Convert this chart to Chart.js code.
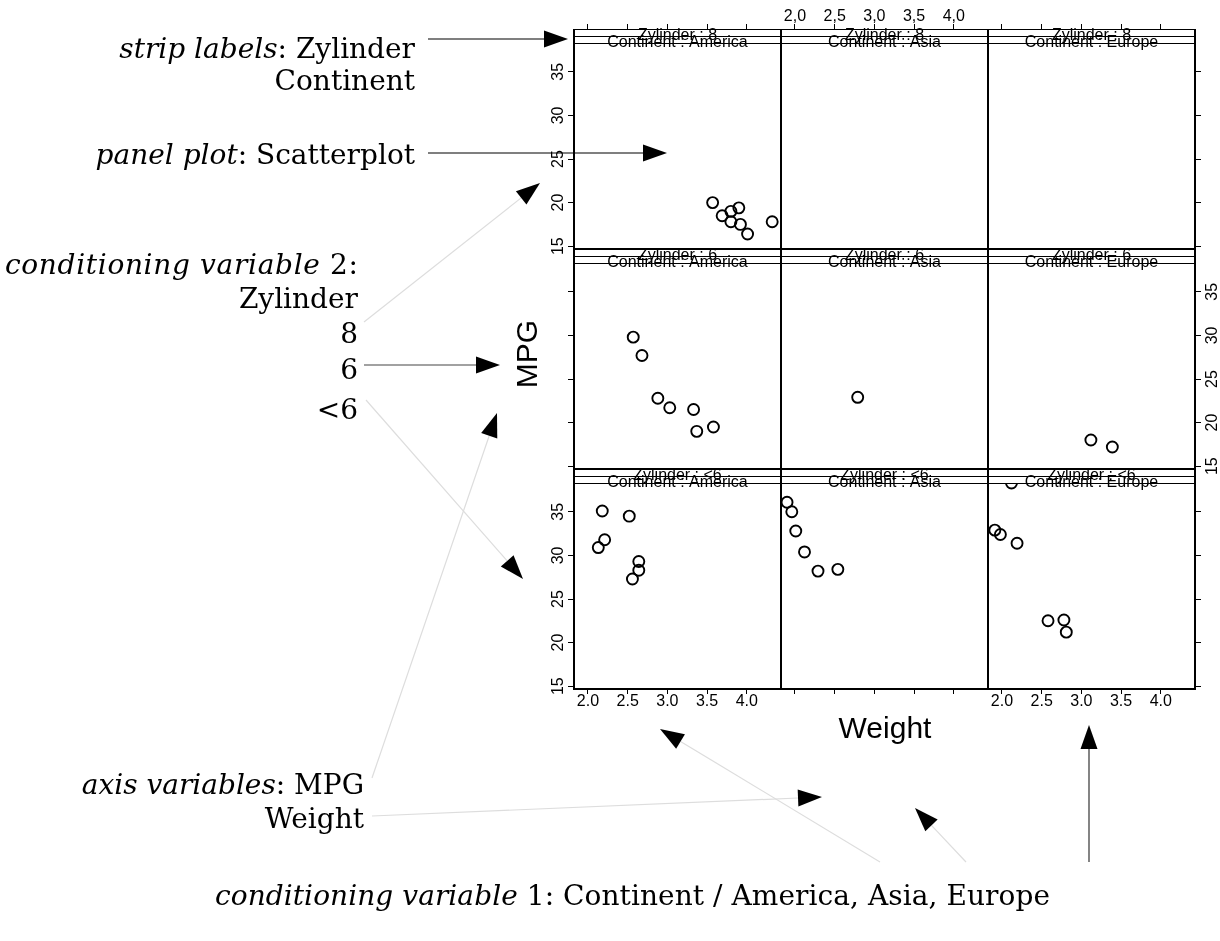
<!DOCTYPE html>
<html>
<head>
<meta charset="utf-8">
<title>MPG ~ Weight | Zylinder * Continent</title>
<script src="https://cdn.jsdelivr.net/npm/chart.js@4.4.1/dist/chart.umd.min.js"></script>
<style>
  html, body { margin: 0; padding: 0; background: #fff; }
  #page { position: relative; width: 1220px; height: 941px; overflow: hidden; }
  #page canvas { position: absolute; }
  #notes { position: absolute; left: 0; top: 0; z-index: 2; pointer-events: none; }
  #notes .serif { font-family: 'DejaVu Serif', serif; font-size: 28px; fill: #000; }
  #notes .sans { font-family: 'Liberation Sans', Arial, sans-serif; font-size: 30px; fill: #000; }
</style>
</head>
<body>
<div id="page">
<svg id="notes" width="1220" height="941" xmlns="http://www.w3.org/2000/svg">
  <!-- legend of the lattice parts -->
  <text class="serif" x="415" y="58" text-anchor="end"><tspan font-style="italic">strip labels</tspan>: Zylinder</text>
  <text class="serif" x="415" y="90" text-anchor="end">Continent</text>
  <text class="serif" x="415" y="164" text-anchor="end"><tspan font-style="italic">panel plot</tspan>: Scatterplot</text>
  <text class="serif" x="5" y="274" textLength="353" lengthAdjust="spacing"><tspan font-style="italic">conditioning variable</tspan> 2:</text>
  <text class="serif" x="358" y="308" text-anchor="end">Zylinder</text>
  <text class="serif" x="358" y="343" text-anchor="end">8</text>
  <text class="serif" x="358" y="379" text-anchor="end">6</text>
  <text class="serif" x="358" y="419" text-anchor="end">&lt;6</text>
  <text class="serif" x="364" y="794" text-anchor="end"><tspan font-style="italic">axis variables</tspan>: MPG</text>
  <text class="serif" x="364" y="828" text-anchor="end">Weight</text>
  <text class="serif" x="215" y="905" textLength="835" lengthAdjust="spacing"><tspan font-style="italic">conditioning variable</tspan> 1: Continent / America, Asia, Europe</text>
  <!-- axis titles shared by all panels -->
  <text class="sans" transform="translate(537,354) rotate(-90)" text-anchor="middle">MPG</text>
  <text class="sans" x="885" y="738" text-anchor="middle">Weight</text>
  <g id="arrows"></g>
</svg>
</div>
<script>
// ===================== DATA =====================
const continents = ['America', 'Asia', 'Europe'];
const zylinderLevels = ['8', '6', '<6'];
const weightTicks = [2.0, 2.5, 3.0, 3.5, 4.0];
const mpgTicks = [15, 20, 25, 30, 35];

// Zylinder 8
const weight8America = [3.57, 3.69, 3.80, 3.90, 3.80, 3.92, 4.01, 4.32];
const mpg8America = [20.0, 18.5, 19.0, 19.4, 17.8, 17.5, 16.4, 17.8];
const weight8Asia = [];
const mpg8Asia = [];
const weight8Europe = [];
const mpg8Europe = [];

// Zylinder 6
const weight6America = [2.57, 2.68, 2.88, 3.03, 3.33, 3.37, 3.58];
const mpg6America = [29.8, 27.7, 22.8, 21.7, 21.5, 19.0, 19.5];
const weight6Asia = [2.79];
const mpg6Asia = [22.9];
const weight6Europe = [3.12, 3.39];
const mpg6Europe = [18.0, 17.2];

// Zylinder <6
const weightLt6America = [2.18, 2.52, 2.21, 2.13, 2.64, 2.64, 2.56];
const mpgLt6America = [35.1, 34.5, 31.8, 30.9, 29.3, 28.3, 27.3];
const weightLt6Asia = [1.90, 1.96, 2.01, 2.12, 2.29, 2.54];
const mpgLt6Asia = [36.1, 35.0, 32.8, 30.4, 28.2, 28.4];
const weightLt6Europe = [2.12, 1.91, 1.98, 2.19, 2.58, 2.78, 2.81];
const mpgLt6Europe = [38.3, 32.9, 32.4, 31.4, 22.5, 22.6, 21.2];

// ===================== LAYOUT =====================
const COL_LEFT = [574, 781, 988];
const ROW_TOP = [29, 249, 469];
const PANEL_W = 207;
const PANEL_H = 220;      // strip + plotting region
const STRIP_H = 14.5;
const M = 40;             // room around each panel for the axes
const X_MIN = 1.824, X_MAX = 4.431;
const Y_MIN = 14.68, Y_MAX = 39.91;

Chart.defaults.font.family = "'Liberation Sans', Arial, sans-serif";
Chart.defaults.color = '#000';

// Trả về [weights, mpgs] cho từng ô của lưới
function panelValues(row, col) {
    const table = [
        [[weight8America, mpg8America], [weight8Asia, mpg8Asia], [weight8Europe, mpg8Europe]],
        [[weight6America, mpg6America], [weight6Asia, mpg6Asia], [weight6Europe, mpg6Europe]],
        [[weightLt6America, mpgLt6America], [weightLt6Asia, mpgLt6Asia], [weightLt6Europe, mpgLt6Europe]]
    ];
    return table[row][col];
}

// Strip labels + panel frame, drawn over the points
const stripPlugin = {
    id: 'strip',
    afterDatasetsDraw(chart, args, opts) {
        const { left, right, top, bottom } = chart.chartArea;
        const ctx = chart.ctx;
        const cx = (left + right) / 2;
        ctx.save();
        ctx.fillStyle = '#fff';
        ctx.fillRect(left, top, right - left, STRIP_H);
        ctx.strokeStyle = '#000';
        ctx.lineWidth = 1;
        [0.5, 7.5, 14.5].forEach(dy => {
            ctx.beginPath();
            ctx.moveTo(left, top + dy);
            ctx.lineTo(right, top + dy);
            ctx.stroke();
        });
        ctx.fillStyle = '#000';
        ctx.font = "16px 'Liberation Sans', Arial, sans-serif";
        ctx.textAlign = 'center';
        ctx.textBaseline = 'alphabetic';
        ctx.fillText(opts.upper, cx, top + 11);
        ctx.fillText(opts.lower, cx, top + 17.5);
        ctx.lineWidth = 2;
        ctx.beginPath();
        ctx.moveTo(left, top);
        ctx.lineTo(left, bottom);
        ctx.lineTo(right, bottom);
        ctx.lineTo(right, top);
        ctx.stroke();
        ctx.restore();
    }
};

function xScale(position, marks, labels, fmt) {
    return {
        type: 'linear',
        position: position,
        min: X_MIN,
        max: X_MAX,
        afterBuildTicks: s => { s.ticks = weightTicks.map(v => ({ value: v })); },
        afterFit: s => { s.height = M; },
        border: { display: false },
        grid: { display: marks, drawOnChartArea: false, drawTicks: true, tickLength: 5, color: '#000', lineWidth: 1 },
        ticks: { display: labels, autoSkip: false, maxRotation: 0, padding: position === 'top' ? -1 : 0, font: { size: 16, lineHeight: 1 }, color: '#000', callback: fmt }
    };
}

function yScale(position, marks, labels, pad) {
    return {
        type: 'linear',
        position: position,
        min: Y_MIN,
        max: Y_MAX,
        afterBuildTicks: s => { s.ticks = mpgTicks.map(v => ({ value: v })); },
        afterFit: s => { s.width = M; },
        border: { display: false },
        grid: { display: marks, drawOnChartArea: false, drawTicks: true, tickLength: 6, color: '#000', lineWidth: 1 },
        ticks: { display: labels, autoSkip: false, minRotation: 90, maxRotation: 90, crossAlign: 'center', padding: pad, font: { size: 16, lineHeight: 1 }, color: '#000', callback: v => String(v) }
    };
}

function buildPanel(row, col) {
    const page = document.getElementById('page');
    const canvas = document.createElement('canvas');
    canvas.width = PANEL_W + 2 * M;
    canvas.height = PANEL_H + 2 * M;
    canvas.style.left = (COL_LEFT[col] - M) + 'px';
    canvas.style.top = (ROW_TOP[row] - M) + 'px';
    page.insertBefore(canvas, document.getElementById('notes'));

    const [xs, ys] = panelValues(row, col);
    const firstRow = row === 0, lastRow = row === 2;
    new Chart(canvas, {
        type: 'scatter',
        data: {
            datasets: [{
                data: xs.map((x, i) => ({ x: x, y: ys[i] })),
                pointStyle: 'circle',
                pointRadius: 5.5,
                pointBorderWidth: 1.9,
                pointBorderColor: '#000',
                pointBackgroundColor: 'rgba(0,0,0,0)',
                clip: 0
            }]
        },
        options: {
            responsive: false,
            animation: false,
            events: [],
            layout: { padding: 0 },
            plugins: {
                legend: { display: false },
                tooltip: { enabled: false },
                strip: { upper: 'Zylinder : ' + zylinderLevels[row], lower: 'Continent : ' + continents[col] }
            },
            scales: {
                x: xScale('bottom', lastRow, lastRow && col !== 1, v => v.toFixed(1)),
                x2: xScale('top', firstRow, firstRow && col === 1, v => v.toFixed(1).replace('.', ',')),
                y: yScale('left', col === 0, col === 0 && row !== 1, 1),
                y2: yScale('right', col === 2, col === 2 && row === 1, 3)
            }
        },
        plugins: [stripPlugin]
    });
}

// ===================== CALLOUT ARROWS =====================
const HEAD_LEN = 24, HEAD_W = 8.5;
const callouts = [
    [428, 39, 568, 39, '#000'],
    [428, 153, 667, 153, '#000'],
    [364, 322, 540, 183, '#ddd'],
    [364, 365, 500, 365, '#444'],
    [366, 400, 523, 579, '#ddd'],
    [372, 778, 497, 413, '#ddd'],
    [372, 816, 822, 797, '#ddd'],
    [880, 862, 660, 729, '#ddd'],
    [966, 862, 915, 808, '#ddd'],
    [1089, 862, 1089, 725, '#333']
];

function drawArrow(group, x1, y1, x2, y2, color) {
    const ns = 'http://www.w3.org/2000/svg';
    const len = Math.hypot(x2 - x1, y2 - y1);
    const ux = (x2 - x1) / len, uy = (y2 - y1) / len;
    const bx = x2 - ux * HEAD_LEN, by = y2 - uy * HEAD_LEN;
    const line = document.createElementNS(ns, 'line');
    line.setAttribute('x1', x1); line.setAttribute('y1', y1);
    line.setAttribute('x2', bx); line.setAttribute('y2', by);
    line.setAttribute('stroke', color);
    line.setAttribute('stroke-width', 1.2);
    group.appendChild(line);
    const head = document.createElementNS(ns, 'polygon');
    head.setAttribute('points', [
        [x2, y2],
        [bx - uy * HEAD_W, by + ux * HEAD_W],
        [bx + uy * HEAD_W, by - ux * HEAD_W]
    ].map(p => p.join(',')).join(' '));
    head.setAttribute('fill', '#000');
    group.appendChild(head);
}

for (let r = 0; r < 3; r++) {
    for (let c = 0; c < 3; c++) buildPanel(r, c);
}
const arrowGroup = document.getElementById('arrows');
callouts.forEach(a => drawArrow(arrowGroup, a[0], a[1], a[2], a[3], a[4]));
</script>
</body>
</html>
